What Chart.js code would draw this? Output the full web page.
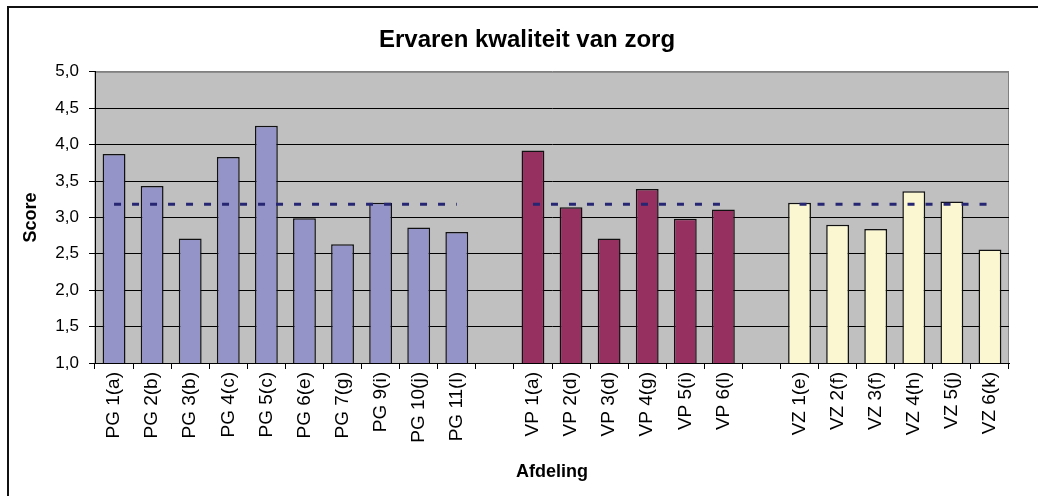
<!DOCTYPE html>
<html>
<head>
<meta charset="utf-8">
<script src="https://cdn.jsdelivr.net/npm/chart.js@4.4.1/dist/chart.umd.min.js"></script>
<style>
  body { margin: 0; background: #fff; }
  #wrap { width: 1038px; height: 496px; }
</style>
</head>
<body>
<div id="wrap"><canvas id="myChart" width="1038" height="496"></canvas></div>
<script>
// afdelingen, with an empty slot between the groups
const labels = [
    'PG 1(a)', 'PG 2(b)', 'PG 3(b)', 'PG 4(c)', 'PG 5(c)', 'PG 6(e)', 'PG 7(g)', 'PG 9(i)', 'PG 10(j)', 'PG 11(l)',
    '',
    'VP 1(a)', 'VP 2(d)', 'VP 3(d)', 'VP 4(g)', 'VP 5(i)', 'VP 6(l)',
    '',
    'VZ 1(e)', 'VZ 2(f)', 'VZ 3(f)', 'VZ 4(h)', 'VZ 5(j)', 'VZ 6(k)'
];

const pgScores = [3.87, 3.43, 2.71, 3.83, 4.26, 2.99, 2.63, 3.20, 2.86, 2.80];
const vpScores = [3.92, 3.14, 2.71, 3.39, 2.98, 3.11];
const vzScores = [3.20, 2.90, 2.84, 3.36, 3.22, 2.56];

// gemiddelde per groep (stippellijn)
const pgMean = [3.18, 3.18, 3.18, 3.18, 3.18, 3.18, 3.18, 3.18, 3.18, 3.18];
const vpMean = [3.18, 3.18, 3.18, 3.18, 3.18, 3.18];
const vzMean = [3.18, 3.18, 3.18, 3.18, 3.18, 3.18];

const yTicks = [1.0, 1.5, 2.0, 2.5, 3.0, 3.5, 4.0, 4.5, 5.0];

const gap = [null];
const empty = n => new Array(n).fill(null);

const pgData = pgScores.concat(gap, empty(vpScores.length), gap, empty(vzScores.length));
const vpData = empty(pgScores.length).concat(gap, vpScores, gap, empty(vzScores.length));
const vzData = empty(pgScores.length).concat(gap, empty(vpScores.length), gap, vzScores);
const meanData = pgMean.concat(gap, vpMean, gap, vzMean);

const plotBackground = {
    id: 'plotBackground',
    beforeDraw(chart) {
        const { ctx, chartArea: a } = chart;
        ctx.save();
        ctx.fillStyle = '#C0C0C0';
        ctx.fillRect(a.left, a.top, a.right - a.left, a.bottom - a.top);
        ctx.strokeStyle = '#808080';
        ctx.lineWidth = 1;
        ctx.strokeRect(a.left, a.top + 0.5, a.right - a.left - 0.5, a.bottom - a.top);
        ctx.restore();
    },
    afterDraw(chart) {
        const ctx = chart.ctx;
        ctx.save();
        ctx.strokeStyle = '#111';
        ctx.lineWidth = 2;
        ctx.beginPath();
        ctx.moveTo(8, chart.height);
        ctx.lineTo(8, 7);
        ctx.lineTo(chart.width, 7);
        ctx.stroke();
        ctx.restore();
    }
};

const barStyle = {
    borderColor: '#111',
    borderWidth: 1.5,
    borderSkipped: 'start',
    barPercentage: 0.6,
    categoryPercentage: 1,
    order: 2
};

new Chart(document.getElementById('myChart').getContext('2d'), {
    type: 'bar',
    data: {
        labels: labels,
        datasets: [
            Object.assign({ label: 'PG', data: pgData, backgroundColor: '#9494C9' }, barStyle),
            Object.assign({ label: 'VP', data: vpData, backgroundColor: '#953061' }, barStyle),
            Object.assign({ label: 'VZ', data: vzData, backgroundColor: '#FBF8D1' }, barStyle),
            {
                type: 'line',
                label: 'Gemiddelde',
                data: meanData,
                borderColor: '#262673',
                borderWidth: 3,
                borderDash: [7, 11],
                borderCapStyle: 'butt',
                pointRadius: 0,
                spanGaps: false,
                fill: false,
                order: 1
            }
        ]
    },
    options: {
        responsive: false,
        animation: false,
        layout: { padding: { left: 45, right: 29, top: 0, bottom: 0 } },
        plugins: {
            legend: { display: false },
            tooltip: { enabled: false },
            title: {
                display: true,
                text: 'Ervaren kwaliteit van zorg',
                color: '#000',
                font: { family: 'Arial, "Liberation Sans", sans-serif', size: 24, weight: 'bold' },
                padding: { top: 26, bottom: 17 }
            }
        },
        scales: {
            x: {
                stacked: true,
                offset: true,
                afterFit: scale => { scale.height = 133; },
                grid: {
                    display: true,
                    offset: true,
                    drawOnChartArea: false,
                    drawTicks: true,
                    tickLength: 6,
                    color: '#000'
                },
                border: { color: '#000', width: 1 },
                ticks: {
                    autoSkip: false,
                    minRotation: 90,
                    maxRotation: 90,
                    padding: 3,
                    color: '#000',
                    font: { family: 'Arial, "Liberation Sans", sans-serif', size: 19 }
                },
                title: {
                    display: true,
                    text: 'Afdeling',
                    color: '#000',
                    font: { family: 'Arial, "Liberation Sans", sans-serif', size: 18, weight: 'bold' },
                    padding: { top: 0, bottom: 13 }
                }
            },
            y: {
                min: yTicks[0],
                max: yTicks[yTicks.length - 1],
                afterFit: scale => { scale.width = 50; },
                afterBuildTicks: scale => { scale.ticks = yTicks.map(v => ({ value: v })); },
                grid: {
                    color: c => (c.tick && c.tick.value === 5 ? '#808080' : '#000'),
                    tickColor: '#000',
                    tickLength: 6,
                    lineWidth: 1
                },
                border: { color: '#000', width: 1 },
                ticks: {
                    padding: 10,
                    color: '#000',
                    font: { family: 'Arial, "Liberation Sans", sans-serif', size: 17 },
                    callback: v => v.toFixed(1).replace('.', ',')
                },
                title: {
                    display: true,
                    text: 'Score',
                    color: '#000',
                    font: { family: 'Arial, "Liberation Sans", sans-serif', size: 18, weight: 'bold' },
                    padding: { top: -25, bottom: 0 }
                }
            }
        }
    },
    plugins: [plotBackground]
});
</script>
</body>
</html>
